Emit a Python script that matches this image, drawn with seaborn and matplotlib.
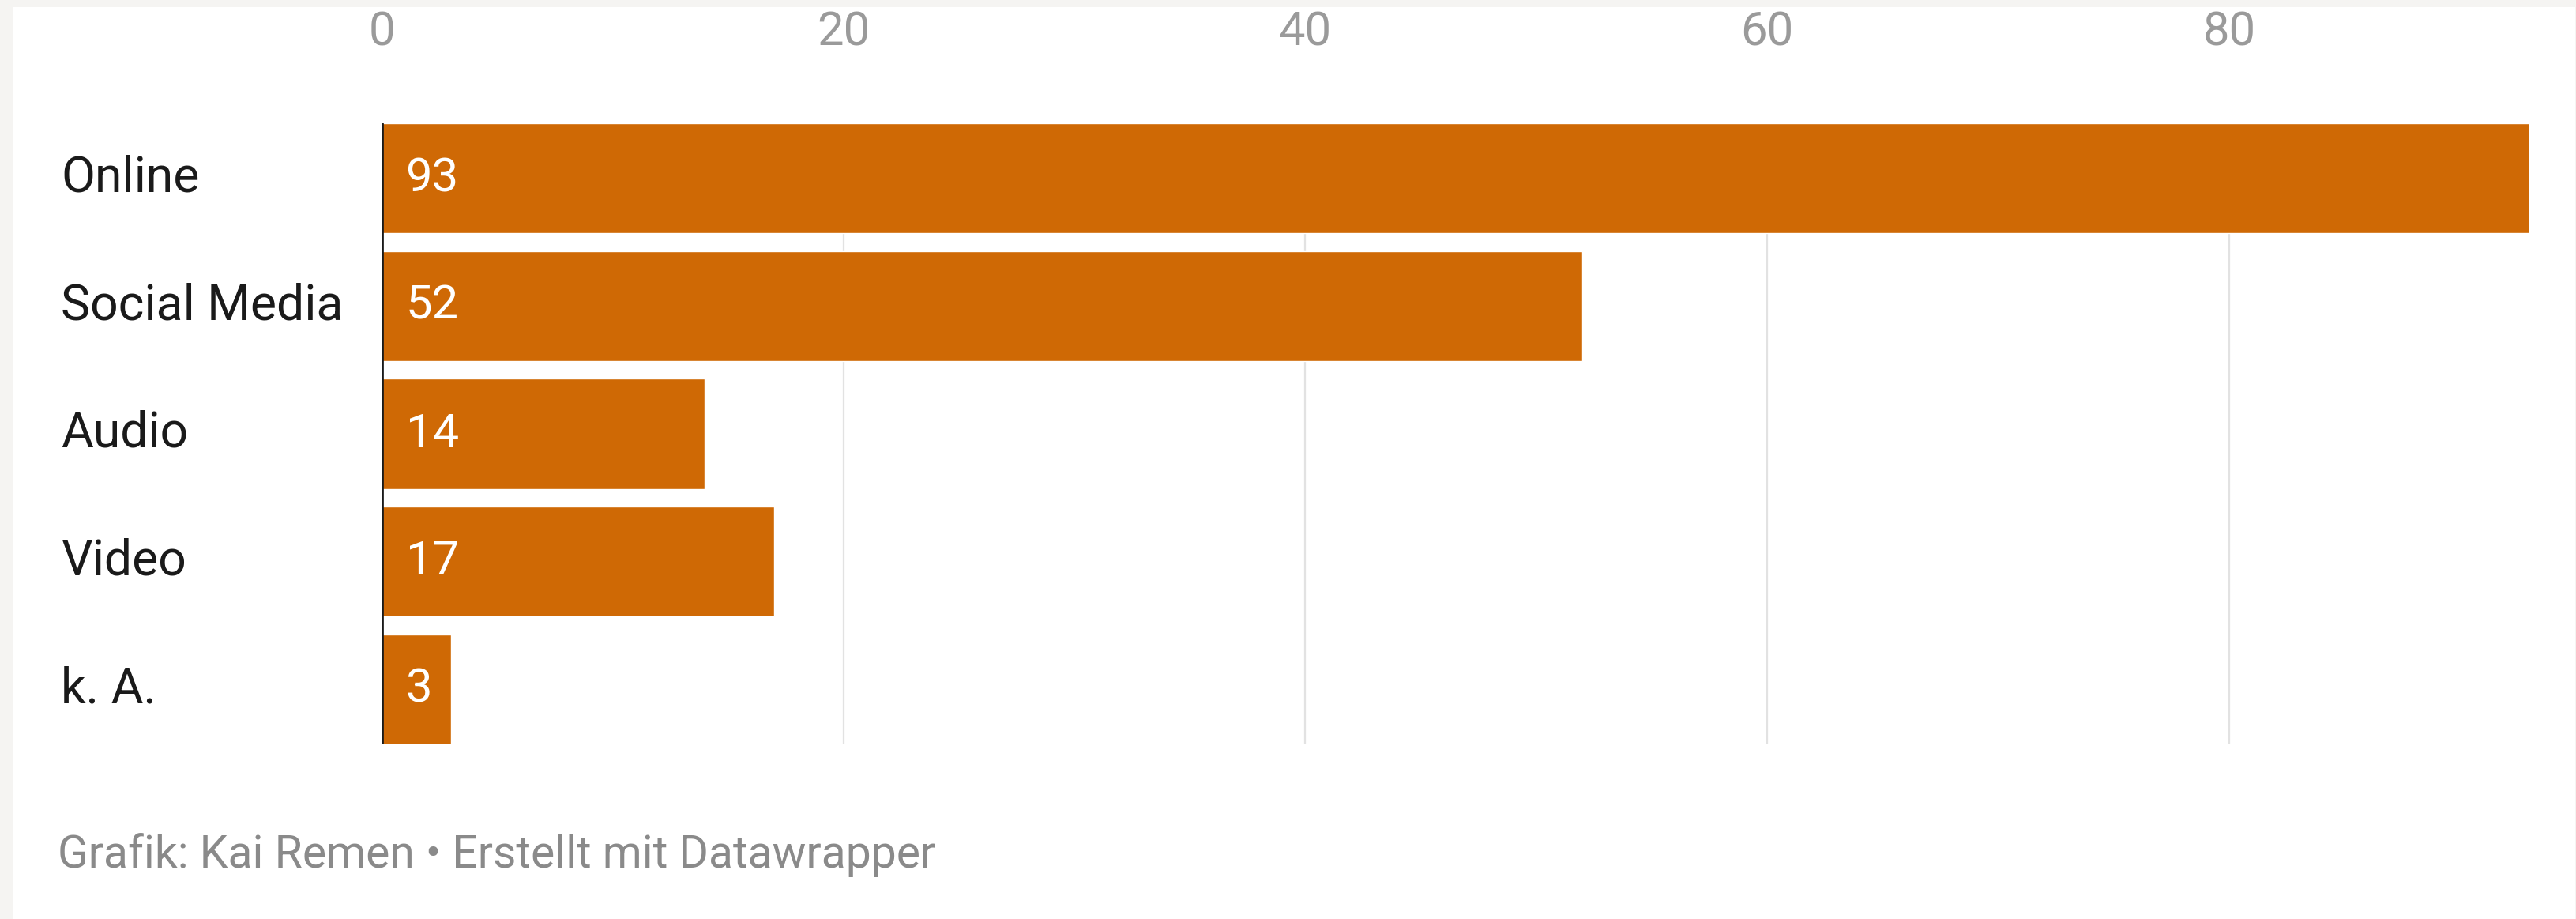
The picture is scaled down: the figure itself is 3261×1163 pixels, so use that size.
import matplotlib.pyplot as plt
import matplotlib.patches as patches
import seaborn as sns

categories = ["Online", "Social Media", "Audio", "Video", "k. A."]
values = [93, 52, 14, 17, 3]
x_ticks = [0, 20, 40, 60, 80]
footer = "Grafik: Kai Remen • Erstellt mit Datawrapper"

bar_color = "#cf6905"
page_bg = "#f5f4f2"

sns.set_style("white")
plt.rcParams["font.family"] = ["Roboto", "DejaVu Sans"]

fig = plt.figure(figsize=(32.62, 11.63), dpi=100)
fig.patch.set_facecolor(page_bg)
# white card on the light grey page
fig.add_artist(patches.Rectangle((16 / 3262, 0), (3260 - 16) / 3262, 1 - 9 / 1163,
                                 transform=fig.transFigure, facecolor="white",
                                 edgecolor="none", zorder=0))

ax = fig.add_axes([483 / 3262, 221 / 1163, (3202 - 483) / 3262, (942 - 156) / 1163])
ax.set_facecolor("none")

sns.barplot(x=values, y=categories, orient="h", color=bar_color, width=0.86,
            saturation=1, ax=ax, zorder=2)

ax.set_xlim(0, 93)
ax.set_ylim(len(categories) - 1 + 0.43, -0.43)

# value labels inside the bars
for i, v in enumerate(values):
    ax.annotate(str(v), xy=(0, i), xytext=(22, 0), textcoords="offset points",
                ha="left", va="center", color="white", fontsize=43, zorder=4)

# axis styling
ax.xaxis.tick_top()
ax.set_xticks(x_ticks)
ax.tick_params(axis="x", length=0, pad=62, labelsize=43, labelcolor="#9a9a9a")
ax.tick_params(axis="y", length=0, pad=292, labelsize=45, labelcolor="#1a1a1a")
for lab in ax.get_yticklabels():
    lab.set_horizontalalignment("left")
    lab.set_verticalalignment("center")
ax.set_xlabel("")
ax.set_ylabel("")
ax.grid(axis="x", color="#e2e2e2", linewidth=1.6, zorder=0)
ax.grid(axis="y", visible=False)
for s in ax.spines.values():
    s.set_visible(False)
ax.axvline(0, color="#1a1a1a", linewidth=3.4, zorder=5)

fig.text(73 / 3262, 1 - 1082 / 1163, footer, ha="left", va="center",
         fontsize=41, color="#8a8a8a")

fig.savefig("out.png", dpi=100, facecolor=page_bg)
